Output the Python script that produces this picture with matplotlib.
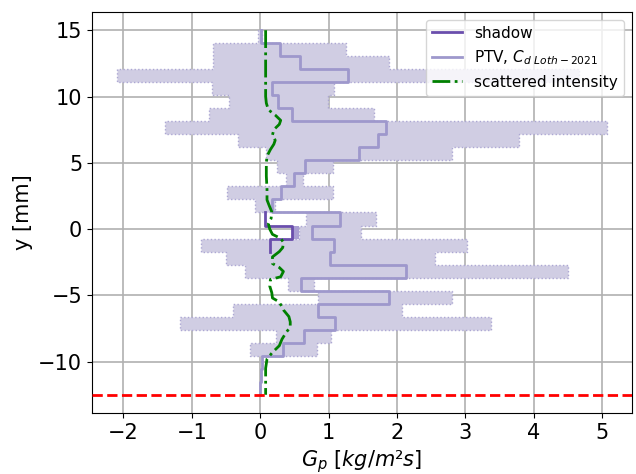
import numpy as np
import matplotlib
matplotlib.use('Agg')
from matplotlib import pyplot as plt

# bin edges along y [mm], top to bottom
y_top, y_bot, n_bins = 15.0, -12.5, 28

# PTV mass flux per bin (top bin first) and its lower / upper bounds
ptv = [0.01, 0.29, 0.59, 1.29, 0.18, 0.26, 0.46, 1.84, 1.72, 1.44,
       0.65, 0.49, 0.30, 0.18, 1.17, 0.76, 1.08, 1.02, 2.14, 0.60,
       1.88, 0.84, 1.10, 0.64, 0.34, 0.03, 0.01, 0.0]
ptv_lo = [-0.03, -0.69, -0.69, -2.10, -0.70, -0.45, -0.75, -1.39, -0.33, 0.08,
          0.24, 0.38, -0.48, -0.08, 0.67, 0.57, -0.87, -0.50, -0.22, 0.40,
          0.84, -0.40, -1.17, 0.23, -0.15, 0.03, 0.01, 0.0]
ptv_hi = [0.03, 1.26, 1.88, 4.67, 1.08, 0.99, 1.67, 5.08, 3.79, 2.81,
          1.06, 0.62, 1.06, 0.22, 1.69, 1.47, 3.03, 2.56, 4.50, 0.79,
          2.81, 2.08, 3.37, 1.04, 0.83, 0.03, 0.01, 0.0]

# shadow measurement only covers three bins around y=0
shadow_bins = [14, 15, 16]
shadow = [0.07, 0.46, 0.14]
shadow_lo = [0.07, 0.46, 0.14]
shadow_hi = [0.07, 0.57, 0.14]

# scattered intensity profile
scat_y = [15.0, 10.0, 9.5, 9.0, 8.6, 8.2, 7.9, 7.5, 7.1, 6.7, 6.4, 6.0, 5.5, 5.0,
          4.0, 3.0, 2.2, 1.8, 1.3, 0.8, 0.4, 0.0, -0.4, -0.7, -1.0, -1.4, -1.7,
          -2.1, -2.6, -2.9, -3.2, -3.6, -3.8, -4.3, -4.8, -5.2, -5.5, -6.1, -6.6,
          -7.0, -7.4, -7.8, -8.3, -8.8, -9.3, -9.8, -10.5, -12.5]
scat_x = [0.08, 0.08, 0.09, 0.12, 0.22, 0.30, 0.28, 0.20, 0.18, 0.22, 0.20, 0.15, 0.10, 0.09,
          0.09, 0.10, 0.10, 0.13, 0.17, 0.16, 0.12, 0.14, 0.18, 0.30, 0.34, 0.33, 0.28,
          0.18, 0.18, 0.28, 0.34, 0.30, 0.15, 0.14, 0.17, 0.18, 0.28, 0.34, 0.42,
          0.44, 0.44, 0.38, 0.32, 0.28, 0.18, 0.10, 0.08, 0.08]

wall_y = -12.5

edges = np.linspace(y_top, y_bot, n_bins + 1)


def steps(vals, idx=None):
    if idx is None:
        idx = np.arange(n_bins)
    idx = np.asarray(idx)
    xs = np.repeat(np.asarray(vals, dtype=float), 2)
    ys = np.column_stack([edges[idx], edges[idx + 1]]).ravel()
    return xs, ys


plt.rcParams['font.family'] = 'DejaVu Sans'
fig = plt.figure(figsize=(6.36, 4.74), dpi=100)
ax = fig.add_axes([0.1447, 0.1287, 0.849, 0.846])

fill_col = '#d0cde3'
edge_col = '#aca7d3'

x_lo, ys = steps(ptv_lo)
x_hi, _ = steps(ptv_hi)
ax.fill_betweenx(ys, x_lo, x_hi, facecolor=fill_col, edgecolor=edge_col,
                 linestyle=':', linewidth=1.0, zorder=2)

s_lo, s_ys = steps(shadow_lo, shadow_bins)
s_hi, _ = steps(shadow_hi, shadow_bins)
ax.fill_betweenx(s_ys, s_lo, s_hi, facecolor='#a99ed2', edgecolor='none', zorder=2)

sx, sy = steps(shadow, shadow_bins)
ax.plot(sx, sy, color='#6a4eac', lw=2, label='shadow', zorder=4)

px, py = steps(ptv)
ax.plot(px, py, color='#9e98cc', lw=2, label=r'PTV, $C_{d\ Loth-2021}$', zorder=3)

ax.plot(scat_x, scat_y, color='green', ls='-.', lw=2, label='scattered intensity', zorder=5)

ax.axhline(wall_y, color='red', ls='--', lw=2, zorder=6)

ax.set_xlim(-2.46, 5.44)
ax.set_ylim(-13.875, 16.375)
ax.set_xticks(range(-2, 6))
ax.set_yticks([-10, -5, 0, 5, 10, 15])
ax.tick_params(labelsize=15)
ax.grid(True, color='#b0b0b0', lw=1.2, zorder=0)
ax.set_axisbelow(True)
ax.set_xlabel(r'$G_p$ [$kg/m²s$]', fontsize=15)
ax.set_ylabel('y [mm]', fontsize=15)
ax.legend(loc='upper right', fontsize=11)

plt.savefig('out.png', dpi=100)
